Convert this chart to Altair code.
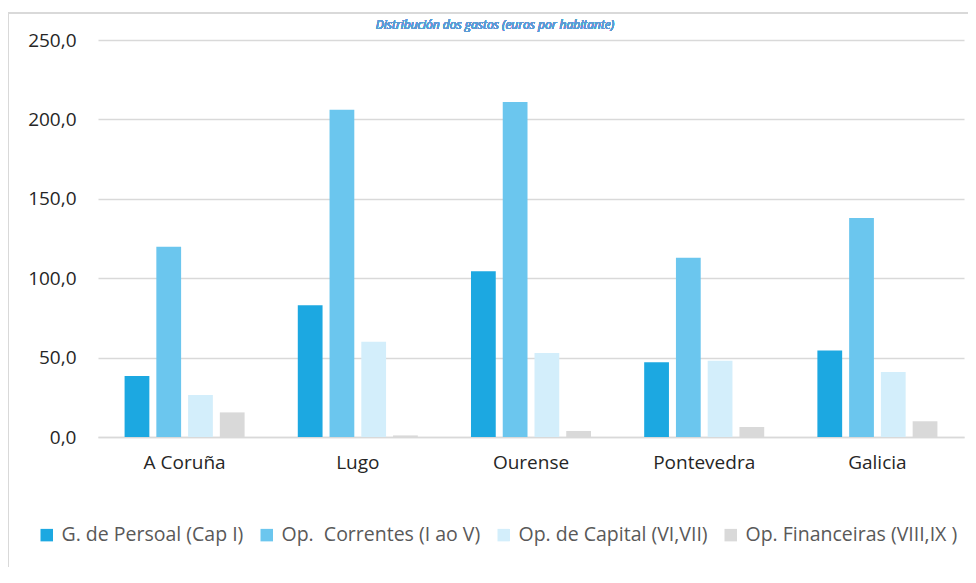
import altair as alt
import pandas as pd

categories = ["A Coruña", "Lugo", "Ourense", "Pontevedra", "Galicia"]
series = [
    "G. de Persoal (Cap I)",
    "Op.\u00a0 Correntes (I ao V)",
    "Op. de Capital (VI,VII)",
    "Op. Financeiras (VIII,IX )",
]
persoal = [38.4, 82.9, 104.3, 47.0, 54.4]
correntes = [119.8, 206.1, 211.0, 112.9, 137.9]
capital = [26.4, 60.0, 52.9, 48.0, 40.9]
financeiras = [15.5, 1.0, 3.8, 6.3, 9.9]
colors = ["#1CA8E1", "#6BC6EE", "#D3EEFB", "#D9D9D9"]
y_ticks = [0, 50, 100, 150, 200, 250]
title_text = "Distribución dos gastos (euros por habitante)"

rows = []
for s, vals in zip(series, [persoal, correntes, capital, financeiras]):
    for c, v in zip(categories, vals):
        rows.append({"provincia": c, "serie": s, "valor": v})
df = pd.DataFrame(rows)

W, H = 866, 397
FONT = "Open Sans"

bars = alt.Chart(df).mark_bar().encode(
    x=alt.X("provincia:N", sort=categories, title=None,
            scale=alt.Scale(paddingInner=0.307, paddingOuter=0.1535),
            axis=alt.Axis(labelAngle=0, labelFontSize=19, labelColor="#262626",
                          labelFont=FONT, labelPadding=16, ticks=False,
                          domainColor="#D9D9D9", domainWidth=1.5)),
    xOffset=alt.XOffset("serie:N", sort=series,
                        scale=alt.Scale(paddingInner=0.22, paddingOuter=0)),
    y=alt.Y("valor:Q", title=None,
            scale=alt.Scale(domain=[0, 250], nice=False),
            axis=alt.Axis(values=y_ticks, labelFontSize=19, labelColor="#262626",
                          labelFont=FONT, labelPadding=22, ticks=False, domain=False,
                          gridColor="#D9D9D9", gridWidth=1.5,
                          labelExpr="replace(format(datum.value, '.1f'), '.', ',')")),
    color=alt.Color("serie:N", sort=series,
                    scale=alt.Scale(domain=series, range=colors),
                    legend=alt.Legend(title=None, orient="none", direction="horizontal",
                                      legendX=-61, legendY=485, symbolType="square",
                                      symbolSize=156, symbolStrokeWidth=0,
                                      labelFont=FONT, labelFontSize=19.5,
                                      labelColor="#595959", labelOffset=5,
                                      columnPadding=13, padding=0, labelLimit=400)),
)

frame_left = alt.Chart(df).mark_rule(color="#D9D9D9", strokeWidth=1.5).encode(
    x=alt.value(-90), y=alt.value(-27), y2=alt.value(H + 140))
frame_top = alt.Chart(df).mark_rule(color="#D9D9D9", strokeWidth=1.5).encode(
    x=alt.value(-90), x2=alt.value(W + 10), y=alt.value(-27))
title_mark = alt.Chart(df).mark_text(
    font=FONT, fontSize=12, fontStyle="italic", fontWeight="normal", color="#5B9BD5",
    align="center", baseline="middle").encode(
    x=alt.value(397), y=alt.value(-15), text=alt.value(title_text))

chart = alt.layer(frame_left, frame_top, title_mark, bars).properties(
    width=W, height=H,
    autosize=alt.AutoSizeParams(type="none"),
    padding={"left": 90, "top": 32, "right": 4, "bottom": 130},
).configure_view(stroke=None)

chart.save("out.html", embed_options={"renderer": "svg", "actions": False})
